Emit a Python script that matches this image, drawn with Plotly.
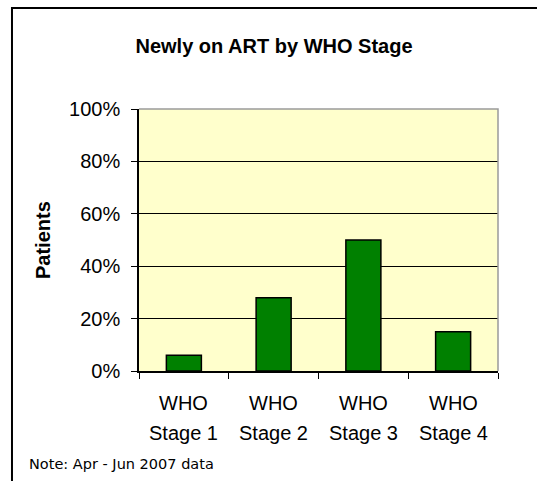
import plotly.graph_objects as go

# data
stages = ["Stage 1", "Stage 2", "Stage 3", "Stage 4"]
stage_prefix = "WHO"
share = [0.06, 0.28, 0.50, 0.15]
y_ticks = [0, 0.2, 0.4, 0.6, 0.8, 1.0]
y_ticktext = ["0%", "20%", "40%", "60%", "80%", "100%"]

FONT = "Arial, Liberation Sans, sans-serif"
W, H = 537, 481
L, R, T, B = 139, 39, 109, 110
pw, ph = W - L - R, H - T - B


def px_x(x):
    """figure pixel x -> paper x"""
    return (x - L) / pw


def px_y(y):
    """figure pixel y (from top) -> paper y"""
    return (H - B - y) / ph


fig = go.Figure(go.Bar(
    x=stages, y=share,
    marker=dict(color="#008000", line=dict(color="black", width=1.5)),
))

fig.update_layout(
    width=W, height=H,
    margin=dict(l=L, r=R, t=T, b=B),
    paper_bgcolor="white",
    plot_bgcolor="#FFFFCC",
    bargap=0.61,
    showlegend=False,
    font=dict(family=FONT, size=20, color="black"),
    title=dict(
        text="<b>Newly on ART by WHO Stage</b>",
        x=274 / W, xanchor="center", xref="container",
        y=1 - 46 / H, yanchor="middle",
        font=dict(family=FONT, size=20, color="black"),
    ),
)

fig.update_xaxes(
    showline=True, linecolor="black", linewidth=1.5,
    ticks="outside", tickson="boundaries", ticklen=6, tickcolor="black",
    showticklabels=False, showgrid=False,
)
fig.update_yaxes(
    range=[0, 1], tickvals=y_ticks, ticktext=y_ticktext,
    showline=True, linecolor="black", linewidth=1.5,
    ticks="outside", ticklen=6, tickcolor="black",
    tickfont=dict(family=FONT, size=20, color="black"),
    ticklabelstandoff=7,
    showgrid=True, gridcolor="black", gridwidth=1,
    zeroline=False,
)

# two-line category labels (wider line spacing than plotly's tick labels)
for s in stages:
    fig.add_annotation(text=stage_prefix, x=s, xref="x", yref="paper", y=px_y(403),
                       showarrow=False, yanchor="middle",
                       font=dict(family=FONT, size=20, color="black"))
    fig.add_annotation(text=s, x=s, xref="x", yref="paper", y=px_y(433),
                       showarrow=False, yanchor="middle",
                       font=dict(family=FONT, size=20, color="black"))

# grey top/right edges of the plot area
fig.add_shape(type="path", xref="paper", yref="paper",
              path="M 0,1 L 1,1 L 1,0",
              line=dict(color="#9a9a9a", width=1.5), layer="above")

# outer chart frame: only its left and top edges are inside the picture
fig.add_shape(type="path", xref="paper", yref="paper",
              path=(f"M {px_x(12):.4f},{px_y(H):.4f} L {px_x(12):.4f},{px_y(8):.4f} "
                    f"L {px_x(W):.4f},{px_y(8):.4f}"),
              line=dict(color="black", width=2), layer="below")

fig.add_annotation(
    text="<b>Patients</b>", textangle=-90, showarrow=False,
    xref="paper", yref="paper", x=px_x(43), y=0.5,
    xanchor="center", yanchor="middle",
    font=dict(family=FONT, size=20, color="black"),
)
fig.add_annotation(
    text="Note: Apr - Jun 2007 data", showarrow=False,
    xref="paper", yref="paper", x=px_x(27), y=px_y(464),
    xanchor="left", yanchor="middle",
    font=dict(family="DejaVu Sans, sans-serif", size=14.5, color="black"),
)

# drop the page's default body margin so the figure fills the window exactly
fig.write_html(
    "out.html",
    config={"displayModeBar": False},
    post_script="document.body.style.margin='0';document.body.style.overflow='hidden';",
)
